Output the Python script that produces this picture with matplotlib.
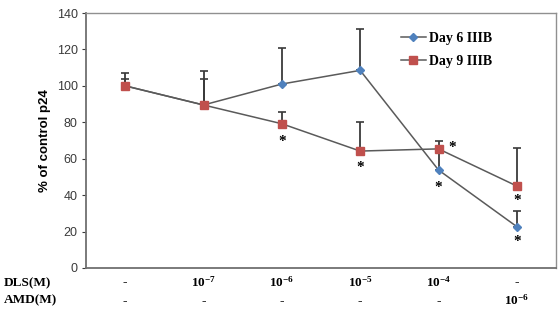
import matplotlib
matplotlib.use("Agg")
import matplotlib.pyplot as plt
import numpy as np

# dados
dls = ["-", r"10$^{\mathbf{-7}}$", r"10$^{\mathbf{-6}}$", r"10$^{\mathbf{-5}}$", r"10$^{\mathbf{-4}}$", "-"]
amd = ["-", "-", "-", "-", "-", r"10$^{\mathbf{-6}}$"]
dia6 = [100, 89.5, 101, 108.5, 53.8, 22.7]
dia6_err = [4, 14.5, 20, 22.5, 12, 8.8]
dia9 = [100, 89.5, 79.2, 64.2, 65.4, 45]
dia9_err = [7.3, 18.7, 6.6, 16, 4.6, 20.7]
# asteriscos: (serie, indice, dx px, dy px)
estrelas = [("d9", 2, 0, -15), ("d9", 3, 0, -14), ("d9", 4, 14, 4),
            ("d6", 4, 0, -15), ("d9", 5, 0, -12), ("d6", 5, 0, -12)]

plt.rcParams["mathtext.fontset"] = "custom"
plt.rcParams["mathtext.rm"] = "Liberation Serif:bold"
plt.rcParams["mathtext.bf"] = "Liberation Serif:bold"
plt.rcParams["mathtext.default"] = "bf"

fig = plt.figure(figsize=(5.6, 3.14), dpi=100)
ax = fig.add_axes([86 / 560, 46 / 314, 470 / 560, 255 / 314])

x = np.arange(len(dia6)) + 0.5
linha = "#5a5a5a"
ax.errorbar(x, dia6, yerr=[np.zeros(len(dia6)), dia6_err], fmt="none",
            ecolor="#3a3a3a", elinewidth=1.3, capsize=3, capthick=1.2, zorder=2)
ax.errorbar(x, dia9, yerr=[np.zeros(len(dia9)), dia9_err], fmt="none",
            ecolor="#3a3a3a", elinewidth=1.3, capsize=3, capthick=1.2, zorder=2)
l6, = ax.plot(x, dia6, color=linha, lw=1.1, marker="D", ms=4.5,
              mfc="#4F81BD", mec="#4F81BD", label="Day 6 IIIB", zorder=3)
l9, = ax.plot(x, dia9, color=linha, lw=1.1, marker="s", ms=6,
              mfc="#C0504D", mec="#C0504D", label="Day 9 IIIB", zorder=4)

series = {"d6": dia6, "d9": dia9}
for s, i, dx, dy in estrelas:
    ax.annotate("*", (x[i], series[s][i]), xytext=(dx * 0.72, dy * 0.72 - 2),
                textcoords="offset points", ha="center", va="center",
                fontsize=11, family="Liberation Serif", fontweight="bold")

ax.set_xlim(0, 6)
ax.set_ylim(0, 140)
ax.set_yticks(np.arange(0, 141, 20))
ax.set_xticks([])
ax.tick_params(axis="y", labelsize=9, colors="#3a3a3a", length=3, width=0.8, pad=3)
for lab in ax.get_yticklabels():
    lab.set_family("Liberation Sans")
for lado in ["left", "bottom"]:
    ax.spines[lado].set_color("#707070")
    ax.spines[lado].set_linewidth(1.3)
for lado in ["right", "top"]:
    ax.spines[lado].set_color("#909090")
    ax.spines[lado].set_linewidth(1.0)

ax.set_ylabel("% of control p24", fontsize=9.5, fontweight="bold",
              family="Liberation Sans", labelpad=4)

leg = ax.legend(loc="upper right", bbox_to_anchor=(0.89, 0.975), frameon=False,
                prop={"family": "Liberation Serif", "weight": "bold", "size": 10},
                handlelength=1.8, handletextpad=0.2, labelspacing=0.7)

# tabela de concentracoes abaixo do eixo
fig.text(4 / 560, 1 - 283 / 314, "DLS(M)", family="Liberation Serif",
         fontweight="bold", fontsize=9.5, va="center")
fig.text(4 / 560, 1 - 300 / 314, "AMD(M)", family="Liberation Serif",
         fontweight="bold", fontsize=9.5, va="center")
for xi, a, b in zip(x, dls, amd):
    ax.text(xi, -8, a, ha="center", va="center", family="Liberation Serif",
            fontweight="bold", fontsize=9.5, transform=ax.transData, clip_on=False)
    ax.text(xi, -18, b, ha="center", va="center", family="Liberation Serif",
            fontweight="bold", fontsize=9.5, transform=ax.transData, clip_on=False)

fig.savefig("out.png", dpi=100)
